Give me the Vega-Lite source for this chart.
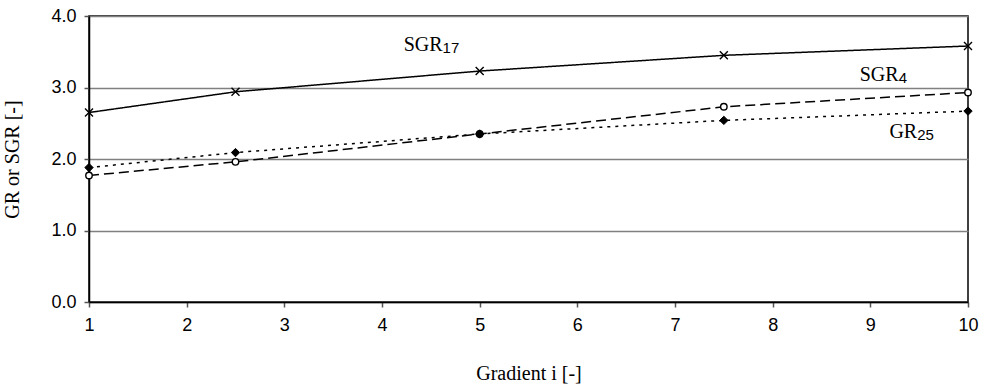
{
  "$schema": "https://vega.github.io/schema/vega-lite/v6.json",
  "width": 879,
  "height": 286,
  "autosize": "none",
  "padding": {"left": 89, "top": 16, "right": 16, "bottom": 85},
  "background": "white",
  "config": {
    "view": {"stroke": "black", "strokeWidth": 1.5},
    "axis": {
      "labelFont": "Liberation Sans",
      "labelFontSize": 18,
      "labelColor": "black",
      "labelFlush": false,
      "labelOverlap": false,
      "titleFont": "Liberation Serif",
      "titleFontSize": 20,
      "titleFontWeight": "normal",
      "titleColor": "black",
      "domainColor": "black",
      "domainWidth": 1.5,
      "tickColor": "#555555",
      "tickSize": 5,
      "tickWidth": 1.5
    }
  },
  "datasets": {
    "series": [
      {"series": "SGR17", "x": 1, "y": 2.65},
      {"series": "SGR17", "x": 2.5, "y": 2.94},
      {"series": "SGR17", "x": 5, "y": 3.23},
      {"series": "SGR17", "x": 7.5, "y": 3.45},
      {"series": "SGR17", "x": 10, "y": 3.58},
      {"series": "SGR4", "x": 1, "y": 1.77},
      {"series": "SGR4", "x": 2.5, "y": 1.96},
      {"series": "SGR4", "x": 5, "y": 2.35},
      {"series": "SGR4", "x": 7.5, "y": 2.73},
      {"series": "SGR4", "x": 10, "y": 2.93},
      {"series": "GR25", "x": 1, "y": 1.88},
      {"series": "GR25", "x": 2.5, "y": 2.09},
      {"series": "GR25", "x": 5, "y": 2.35},
      {"series": "GR25", "x": 7.5, "y": 2.54},
      {"series": "GR25", "x": 10, "y": 2.67}
    ],
    "labels": [
      {"main": "SGR", "sub": "17", "x": 4.62, "y": 3.51},
      {"main": "SGR", "sub": "4", "x": 9.29, "y": 3.09},
      {"main": "GR", "sub": "25", "x": 9.48, "y": 2.29}
    ]
  },
  "layer": [
    {
      "data": {"name": "series"},
      "mark": {"type": "line", "color": "black", "strokeWidth": 1.5},
      "encoding": {
        "x": {
          "field": "x", "type": "quantitative",
          "scale": {"domain": [1, 10], "nice": false, "zero": false},
          "axis": {
            "title": "Gradient i [-]",
            "values": [1, 2, 3, 4, 5, 6, 7, 8, 9, 10],
            "format": "d",
            "grid": false,
            "labelPadding": 9,
            "titleX": 439.5,
            "titleY": 77,
            "titleBaseline": "alphabetic"
          }
        },
        "y": {
          "field": "y", "type": "quantitative",
          "scale": {"domain": [0, 4], "nice": false},
          "axis": {
            "title": "GR or SGR [-]",
            "values": [0, 1, 2, 3, 4],
            "format": ".1f",
            "grid": true,
            "gridColor": "#808080",
            "gridWidth": 1.5,
            "labelPadding": 8,
            "titleX": -67,
            "titleY": 143,
            "titleAngle": -90,
            "titleBaseline": "bottom",
            "titleAlign": "center"
          }
        },
        "detail": {"field": "series"},
        "strokeDash": {
          "field": "series", "type": "nominal",
          "scale": {"domain": ["SGR17", "SGR4", "GR25"], "range": [[1, 0], [10, 5], [3, 5]]},
          "legend": null
        }
      }
    },
    {
      "data": {"name": "series"},
      "transform": [{"filter": "datum.series === 'SGR17'"}],
      "mark": {"type": "point", "shape": "M-1,-1L1,1M-1,1L1,-1", "filled": false, "stroke": "black", "strokeWidth": 1.4, "size": 64, "opacity": 1},
      "encoding": {
        "x": {"field": "x", "type": "quantitative"},
        "y": {"field": "y", "type": "quantitative"}
      }
    },
    {
      "data": {"name": "series"},
      "transform": [{"filter": "datum.series === 'SGR4'"}],
      "mark": {"type": "point", "shape": "circle", "filled": true, "fill": "white", "stroke": "black", "strokeWidth": 1.4, "size": 42, "opacity": 1},
      "encoding": {
        "x": {"field": "x", "type": "quantitative"},
        "y": {"field": "y", "type": "quantitative"}
      }
    },
    {
      "data": {"name": "series"},
      "transform": [{"filter": "datum.series === 'GR25'"}],
      "mark": {"type": "point", "shape": "diamond", "filled": true, "fill": "black", "stroke": "black", "strokeWidth": 1, "size": 70, "opacity": 1},
      "encoding": {
        "x": {"field": "x", "type": "quantitative"},
        "y": {"field": "y", "type": "quantitative"}
      }
    },
    {
      "data": {"name": "labels"},
      "mark": {"type": "text", "font": "Liberation Serif", "fontSize": 20, "align": "right", "baseline": "alphabetic", "color": "black"},
      "encoding": {
        "x": {"field": "x", "type": "quantitative"},
        "y": {"field": "y", "type": "quantitative"},
        "text": {"field": "main"}
      }
    },
    {
      "data": {"name": "labels"},
      "mark": {"type": "text", "font": "Liberation Sans", "fontSize": 15, "align": "left", "baseline": "alphabetic", "dy": 2, "color": "black"},
      "encoding": {
        "x": {"field": "x", "type": "quantitative"},
        "y": {"field": "y", "type": "quantitative"},
        "text": {"field": "sub"}
      }
    }
  ]
}
